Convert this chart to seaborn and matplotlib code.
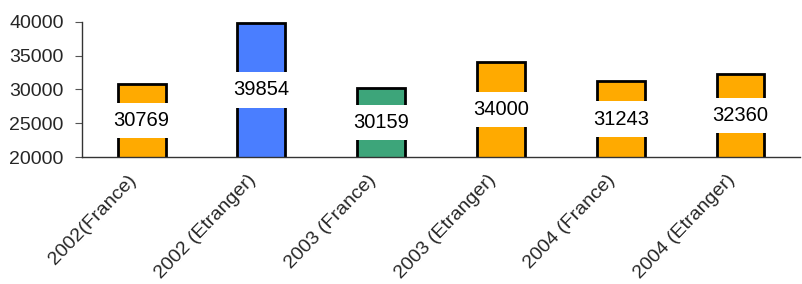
import matplotlib
matplotlib.use("Agg")
import matplotlib.pyplot as plt
import matplotlib.transforms as mtransforms
import seaborn as sns

# Données
categories = ["2002(France)", "2002 (Etranger)", "2003 (France)",
              "2003 (Etranger)", "2004 (France)", "2004 (Etranger)"]
values = [30769, 39854, 30159, 34000, 31243, 32360]
colors = ["#FFAA00", "#4A7EFF", "#3DA57A", "#FFAA00", "#FFAA00", "#FFAA00"]

sns.set_style("white")
plt.rcParams["font.family"] = ["Liberation Sans", "DejaVu Sans"]

fig = plt.figure(figsize=(8.02, 2.84), dpi=100)
ax = fig.add_axes([0.102, 0.447, 0.896, 0.476])

sns.barplot(x=categories, y=values, hue=categories, palette=colors,
            width=0.4, edgecolor="black", linewidth=2, saturation=1,
            legend=False, ax=ax)

ymin = 20000
ax.set_ylim(ymin, 40000)
ax.set_yticks([20000, 25000, 30000, 35000, 40000])
ax.tick_params(axis="y", labelsize=14, left=True, length=5, pad=8,
               color="#555555")
ax.tick_params(axis="x", labelsize=14, bottom=False, pad=4)
offset = mtransforms.ScaledTranslation(-14 / 100, -4 / 100, fig.dpi_scale_trans)
for lbl in ax.get_xticklabels():
    lbl.set_rotation(46)
    lbl.set_ha("right")
    lbl.set_rotation_mode("anchor")
    lbl.set_transform(lbl.get_transform() + offset)
ax.set_xlabel("")
ax.set_ylabel("")

for side in ["top", "right"]:
    ax.spines[side].set_visible(False)
for side in ["left", "bottom"]:
    ax.spines[side].set_color("#333333")
    ax.spines[side].set_linewidth(1)

# étiquettes de valeurs au centre de la partie visible des barres
for patch, val in zip(ax.patches, values):
    xc = patch.get_x() + patch.get_width() / 2
    ax.text(xc, (val + ymin) / 2, f"{val}", ha="center", va="center",
            fontsize=14.5, color="black",
            bbox=dict(boxstyle="square,pad=0.4", fc="white", ec="none"))

fig.savefig("out.png", dpi=100)
